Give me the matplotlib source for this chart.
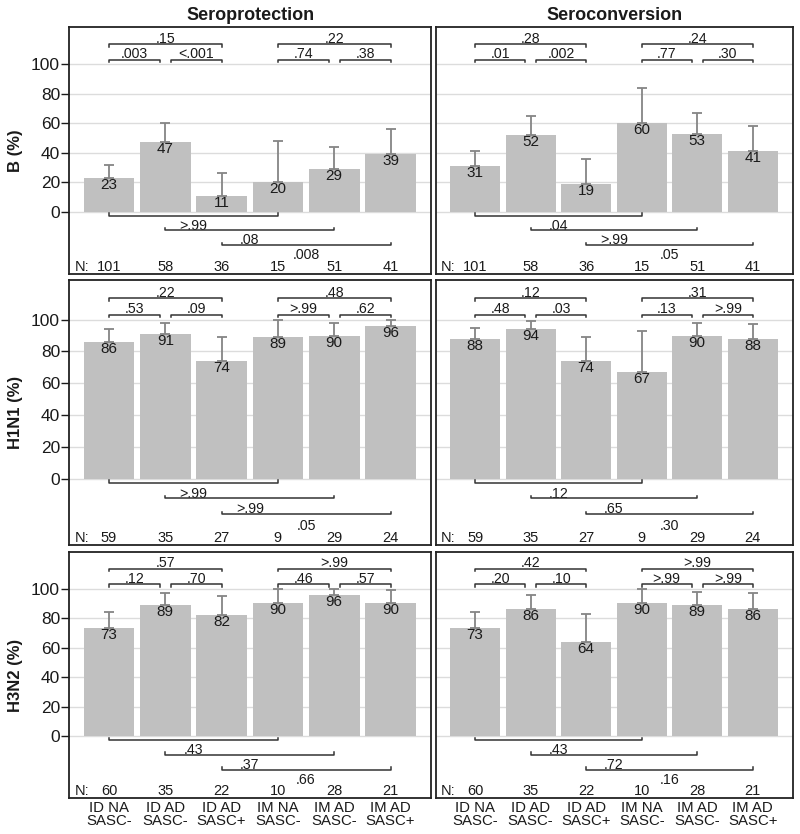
"""Seroprotection / seroconversion bar panels with p-value brackets."""

import matplotlib.pyplot as plt

plt.rcParams["font.family"] = ["Liberation Sans", "DejaVu Sans"]

groups = ["ID NA\nSASC-", "ID AD\nSASC-", "ID AD\nSASC+",
          "IM NA\nSASC-", "IM AD\nSASC-", "IM AD\nSASC+"]
strains = ["B", "H1N1", "H3N2"]
outcomes = ["Seroprotection", "Seroconversion"]

n_b = [101, 58, 36, 15, 51, 41]
n_h1n1 = [59, 35, 27, 9, 29, 24]
n_h3n2 = [60, 35, 22, 10, 28, 21]

# bar values (%) and upper CI limits
prot_b = [23, 47, 11, 20, 29, 39]
prot_b_hi = [32, 60, 26, 48, 44, 56]
conv_b = [31, 52, 19, 60, 53, 41]
conv_b_hi = [41, 65, 36, 84, 67, 58]
prot_h1n1 = [86, 91, 74, 89, 90, 96]
prot_h1n1_hi = [94, 98, 89, 100, 98, 100]
conv_h1n1 = [88, 94, 74, 67, 90, 88]
conv_h1n1_hi = [95, 99, 89, 93, 98, 97.5]
prot_h3n2 = [73, 89, 82, 90, 96, 90]
prot_h3n2_hi = [84, 97, 95, 100, 100, 99]
conv_h3n2 = [73, 86, 64, 90, 89, 86]
conv_h3n2_hi = [84, 95.5, 83, 100, 98, 97]

# p-values above: (0,1), (1,2), (0,2), (3,4), (4,5), (3,5)
prot_b_ptop = [".003", "<.001", ".15", ".74", ".38", ".22"]
conv_b_ptop = [".01", ".002", ".28", ".77", ".30", ".24"]
prot_h1n1_ptop = [".53", ".09", ".22", ">.99", ".62", ".48"]
conv_h1n1_ptop = [".48", ".03", ".12", ".13", ">.99", ".31"]
prot_h3n2_ptop = [".12", ".70", ".57", ".46", ".57", ">.99"]
conv_h3n2_ptop = [".20", ".10", ".42", ">.99", ">.99", ">.99"]

# p-values below: (0,3), (1,4), (2,5)
prot_b_pbot = [">.99", ".08", ".008"]
conv_b_pbot = [".04", ">.99", ".05"]
prot_h1n1_pbot = [">.99", ">.99", ".05"]
conv_h1n1_pbot = [".12", ".65", ".30"]
prot_h3n2_pbot = [".43", ".37", ".66"]
conv_h3n2_pbot = [".43", ".72", ".16"]

panels = [
    [(prot_b, prot_b_hi, prot_b_ptop, prot_b_pbot, n_b),
     (conv_b, conv_b_hi, conv_b_ptop, conv_b_pbot, n_b)],
    [(prot_h1n1, prot_h1n1_hi, prot_h1n1_ptop, prot_h1n1_pbot, n_h1n1),
     (conv_h1n1, conv_h1n1_hi, conv_h1n1_ptop, conv_h1n1_pbot, n_h1n1)],
    [(prot_h3n2, prot_h3n2_hi, prot_h3n2_ptop, prot_h3n2_pbot, n_h3n2),
     (conv_h3n2, conv_h3n2_hi, conv_h3n2_ptop, conv_h3n2_pbot, n_h3n2)],
]

BAR = "#c0c0c0"
ERR = "#858585"
INK = "#1a1a1a"

top_pairs = [(0, 0.9), (1.1, 2), (0, 2), (3, 3.9), (4.1, 5), (3, 5)]
top_levels = [103.2, 103.2, 113.6, 103.2, 103.2, 113.6]
bot_pairs = [(0, 3), (1, 4), (2, 5)]
bot_levels = [-2.7, -12.4, -22.6]

# axes boxes in figure fractions (middle row is a bit taller)
col_x = [(0.0863, 0.4525), (0.5446, 0.4463)]
row_y = [(0.6718, 0.2954), (0.3462, 0.3181), (0.0428, 0.2957)]


def draw_panel(ax, vals, hi, ptop, pbot, ns, left):
    x = list(range(len(vals)))
    ax.set_xlim(-0.71, 5.72)
    ax.set_ylim(-42, 125)
    for g in range(0, 101, 20):
        ax.axhline(g, color="#dcdcdc", lw=1.0, zorder=0)
    ax.bar(x, vals, width=0.9, color=BAR, zorder=1)
    err_lo = [0] * len(vals)
    err_hi = [h - v for h, v in zip(hi, vals)]
    ax.errorbar(x, vals, yerr=[err_lo, err_hi], fmt="none", ecolor=ERR,
                elinewidth=1.3, capsize=3.5, capthick=1.3, zorder=2)
    for xi, v in zip(x, vals):
        ax.text(xi, v, str(v), ha="center", va="top", fontsize=11,
                color=INK, zorder=3)

    # comparison brackets above the bars
    for (a, b), lvl, p in zip(top_pairs, top_levels, ptop):
        ax.plot([a, a, b, b], [lvl - 1.8, lvl, lvl, lvl - 1.8],
                color="#333333", lw=1.1, zorder=3)
        ax.text((a + b) / 2, lvl + 0.9, p, ha="center", va="baseline",
                fontsize=10.2, color=INK)

    # comparison brackets below the bars
    for (a, b), lvl, p in zip(bot_pairs, bot_levels, pbot):
        ax.plot([a, a, b, b], [lvl + 1.6, lvl, lvl, lvl + 1.6],
                color="#333333", lw=1.1, zorder=3)
        ax.text((a + b) / 2, lvl - 9.6, p, ha="center", va="baseline",
                fontsize=10.2, color=INK)

    # sample sizes
    ax.text(-0.61, -40, "N:", ha="left", va="baseline", fontsize=10.5,
            color=INK)
    for xi, n in zip(x, ns):
        ax.text(xi, -40, str(n), ha="center", va="baseline", fontsize=10.5,
                color=INK)

    for s in ax.spines.values():
        s.set_color("#222222")
        s.set_linewidth(1.3)
    ax.set_xticks([])
    if left:
        ax.set_yticks(range(0, 101, 20))
        ax.tick_params(axis="y", length=5.5, width=1.0, pad=1,
                       labelsize=12.5, colors=INK)
    else:
        ax.set_yticks([])


def main():
    fig = plt.figure(figsize=(8.0, 8.34), dpi=100)

    for r, row in enumerate(panels):
        for c, (vals, hi, ptop, pbot, ns) in enumerate(row):
            x0, w = col_x[c]
            y0, h = row_y[r]
            ax = fig.add_axes([x0, y0, w, h])
            draw_panel(ax, vals, hi, ptop, pbot, ns, left=(c == 0))
            if c == 0:
                ax.set_ylabel(f"{strains[r]} (%)", fontsize=12,
                              fontweight="bold", labelpad=6, color=INK)
            if r == 0:
                ax.set_title(outcomes[c], fontsize=13, fontweight="bold",
                             pad=5, color=INK)
            if r == len(panels) - 1:
                ax.set_xticks(range(len(groups)))
                ax.set_xticklabels(groups, fontsize=10.8, linespacing=0.9,
                                   color=INK)
                ax.tick_params(axis="x", length=0, pad=2)

    fig.savefig("out.png", dpi=100)


if __name__ == "__main__":
    main()
